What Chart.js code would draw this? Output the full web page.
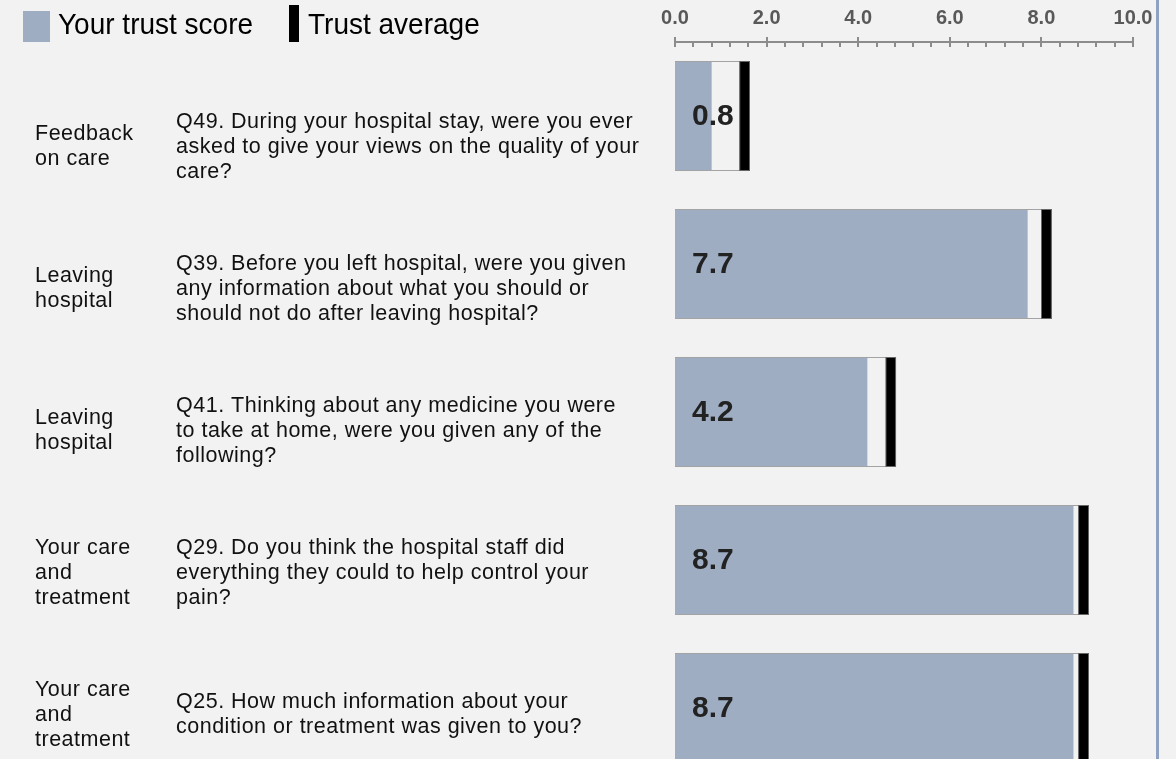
<!DOCTYPE html>
<html>
<head>
<meta charset="utf-8">
<script src="https://cdn.jsdelivr.net/npm/chart.js@4/dist/chart.umd.min.js"></script>
<style>
  html, body { margin: 0; padding: 0; background: #f2f2f2; overflow: hidden; }
  #wrap { position: relative; width: 1176px; height: 782px; }
  #myChart { position: absolute; left: 0; top: 0; }
  .legend { position: absolute; top: 0; font-family: "Liberation Sans", Arial, sans-serif; font-size: 28px; color: #000;
            line-height: 32px; transform: scaleY(1.08); transform-origin: 0 100%; }
  .swatch { position: absolute; }
  .edge { position: absolute; left: 1156px; top: 0; width: 3px; height: 782px; background: #8fa2c1; }
</style>
</head>
<body>
<div id="wrap">
  <canvas id="myChart" width="1176" height="782"></canvas>
  <div class="swatch" style="left:23px;top:11px;width:27px;height:31px;background:#9eadc2"></div>
  <div class="legend" style="left:58px;top:10px">Your trust score</div>
  <div class="swatch" style="left:289px;top:5px;width:10px;height:37px;background:#000"></div>
  <div class="legend" style="left:308px;top:10px">Trust average</div>
  <div class="edge"></div>
</div>
<script>
// section names (already wrapped in lines)
const sections = [
  ["Feedback", "on care"],
  ["Leaving", "hospital"],
  ["Leaving", "hospital"],
  ["Your care", "and", "treatment"],
  ["Your care", "and", "treatment"]
];
const questions = [
  ["Q49. During your hospital stay, were you ever", "asked to give your views on the quality of your", "care?"],
  ["Q39. Before you left hospital, were you given", "any information about what you should or", "should not do after leaving hospital?"],
  ["Q41. Thinking about any medicine you were", "to take at home, were you given any of the", "following?"],
  ["Q29. Do you think the hospital staff did", "everything they could to help control your", "pain?"],
  ["Q25. How much information about your", "condition or treatment was given to you?"]
];
const scores = [0.8, 7.7, 4.2, 8.7, 8.7];
const trustAverage = [1.52, 8.11, 4.71, 8.92, 8.92];
const tickValues = [0, 2, 4, 6, 8, 10];

const markerHalf = 0.12;
const labels = questions.map(q => q[0].split(".")[0]);

// axis line + major/minor ticks on top
const axisPlugin = {
  id: "axisTicks",
  afterDraw(chart) {
    const ctx = chart.ctx;
    const x = chart.scales.x;
    const y0 = chart.chartArea.top;
    ctx.save();
    ctx.strokeStyle = "#8c8c8c";
    ctx.lineWidth = 2;
    ctx.beginPath();
    ctx.moveTo(x.getPixelForValue(tickValues[0]), y0);
    ctx.lineTo(x.getPixelForValue(tickValues[tickValues.length - 1]), y0);
    for (let v = 0; v <= 10.001; v += 0.4) {
      const px = Math.round(x.getPixelForValue(v));
      const major = Math.abs(v / 2 - Math.round(v / 2)) < 0.01;
      ctx.moveTo(px, major ? y0 - 5 : y0);
      ctx.lineTo(px, y0 + 5);
    }
    ctx.stroke();
    ctx.restore();
  }
};

// row texts + value labels
const textPlugin = {
  id: "rowText",
  afterDraw(chart) {
    const ctx = chart.ctx;
    const yScale = chart.scales.y;
    const xScale = chart.scales.x;
    ctx.save();
    ctx.textBaseline = "middle";
    ctx.textAlign = "left";
    const lh = 25;
    labels.forEach((lab, i) => {
      const cy = yScale.getPixelForValue(i);
      const ty = cy + 31 - 6 * i;
      ctx.fillStyle = "#111";
      ctx.font = "21.5px 'Liberation Sans', Arial";
      ctx.letterSpacing = "0.5px";
      const s = sections[i];
      s.forEach((line, k) => {
        ctx.fillText(line, 35, ty + (k - (s.length - 1) / 2) * lh);
      });
      const q = questions[i];
      q.forEach((line, k) => {
        ctx.fillText(line, 176, ty + (k - (q.length - 1) / 2) * lh);
      });
      ctx.letterSpacing = "0px";
      ctx.fillStyle = "#222";
      ctx.font = "bold 30px 'Liberation Sans', Arial";
      ctx.fillText(scores[i].toFixed(1), xScale.getPixelForValue(0) + 17, cy + 1);
    });
    ctx.restore();
  }
};

const ctx = document.getElementById("myChart").getContext("2d");
const myChart = new Chart(ctx, {
  type: "bar",
  data: {
    labels: labels,
    datasets: [
      {
        label: "Your trust score",
        data: scores.map(v => [0, v]),
        backgroundColor: "#9eadc2",
        borderWidth: 0,
        order: 3
      },
      {
        label: "box",
        data: trustAverage.map(v => [0, v + markerHalf]),
        backgroundColor: "rgba(0,0,0,0)",
        borderColor: "#a3a3a3",
        borderWidth: { top: 1, bottom: 1, right: 1, left: 0 },
        order: 2
      },
      {
        label: "Trust average",
        data: trustAverage.map(v => [v - markerHalf, v + markerHalf]),
        backgroundColor: "#000",
        borderColor: "#666",
        borderWidth: 1,
        order: 1
      }
    ]
  },
  options: {
    indexAxis: "y",
    responsive: false,
    animation: false,
    devicePixelRatio: 1,
    layout: { padding: { left: 675, right: 43, top: 0, bottom: 0 } },
    datasets: {
      bar: { grouped: false, categoryPercentage: 1, barPercentage: 0.742, borderSkipped: false }
    },
    scales: {
      x: {
        position: "top",
        min: tickValues[0],
        max: tickValues[tickValues.length - 1],
        grid: { display: false },
        border: { display: false },
        afterBuildTicks: s => { s.ticks = tickValues.map(v => ({ value: v })); },
        ticks: {
          padding: 4,
          color: "#595959",
          font: { family: "'Liberation Sans', Arial", size: 20, weight: "bold" },
          callback: v => Number(v).toFixed(1)
        },
        afterFit: s => { s.height = 42; }
      },
      y: { display: false }
    },
    plugins: { legend: { display: false }, tooltip: { enabled: false } }
  },
  plugins: [axisPlugin, textPlugin]
});
</script>
</body>
</html>
